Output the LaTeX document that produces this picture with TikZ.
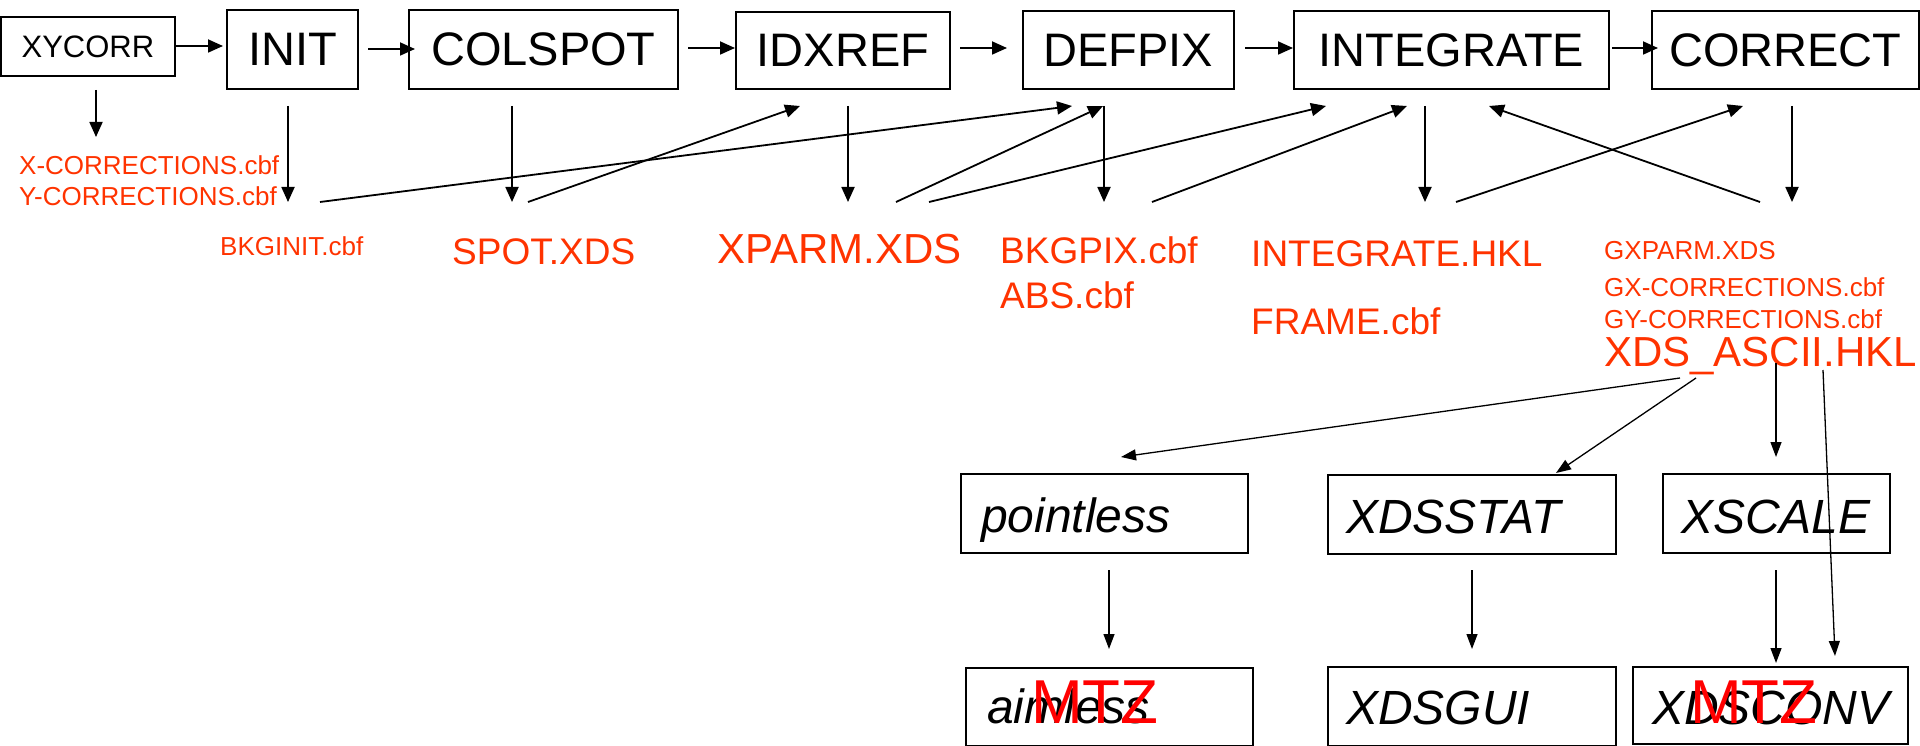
\documentclass[tikz,border=0pt]{standalone}
\usepackage{fontspec}
\setmainfont{Liberation Sans}
\usetikzlibrary{arrows.meta}
\definecolor{fileorange}{HTML}{FF3300}
\definecolor{mtzred}{HTML}{FF0000}
\begin{document}
\begin{tikzpicture}[x=1pt,y=-1pt,
  box/.style={draw,line width=1.8pt,inner sep=0pt,anchor=north west},
  topfont/.style={font=\fontsize{47}{56}\selectfont},
  lowlbl/.style={anchor=base west,inner sep=0pt,font=\fontsize{48}{58}\selectfont\itshape},
  file/.style={anchor=base west,inner sep=0pt,text=fileorange},
  fsmall/.style={font=\fontsize{26}{31}\selectfont},
  fmid/.style={font=\fontsize{37}{44}\selectfont},
  fbig/.style={font=\fontsize{42}{50}\selectfont},
  mtz/.style={anchor=base west,inner sep=0pt,text=mtzred,font=\fontsize{62}{74}\selectfont},
  arr/.style={line width=1.8pt,-{Triangle[length=15pt,width=13pt]}},
  arrthin/.style={line width=1.3pt,-{Triangle[length=15pt,width=11pt]}}
]
\useasboundingbox (0,0) rectangle (1920,746);

% top row boxes
\node[box,minimum width=174pt,minimum height=59pt,font=\fontsize{31}{37}\selectfont] (xycorr) at (0,16) {XYCORR};
\node[box,topfont,minimum width=131pt,minimum height=79pt] (init) at (226,9) {INIT};
\node[box,topfont,minimum width=269pt,minimum height=79pt] (colspot) at (408,9) {COLSPOT};
\node[box,topfont,minimum width=214pt,minimum height=77pt] (idxref) at (735,11) {IDXREF};
\node[box,topfont,minimum width=211pt,minimum height=78pt] (defpix) at (1022,10) {DEFPIX};
\node[box,topfont,minimum width=315pt,minimum height=78pt] (integrate) at (1293,10) {INTEGRATE};
\node[box,topfont,minimum width=267pt,minimum height=78pt] (correct) at (1651,10) {CORRECT};

% bottom boxes
\node[box,minimum width=287pt,minimum height=79pt] (pointless) at (960,473) {};
\node[box,minimum width=288pt,minimum height=79pt] (xdsstat) at (1327,474) {};
\node[box,minimum width=227pt,minimum height=79pt] (xscale) at (1662,473) {};
\node[box,minimum width=287pt,minimum height=78pt] (aimless) at (965,667) {};
\node[box,minimum width=288pt,minimum height=79pt] (xdsgui) at (1327,666) {};
\node[box,minimum width=275pt,minimum height=77pt] (xdsconv) at (1632,666) {};

\node[lowlbl] (pointlesst) at (981,532) {pointless};
\node[lowlbl] (xdsstatt) at (1346,533) {XDSSTAT};
\node[lowlbl] (xscalet) at (1681,533) {XSCALE};
\node[lowlbl] (aimlesst) at (987,723) {aimless};
\node[lowlbl] (xdsguit) at (1346,724) {XDSGUI};
\node[lowlbl] (xdsconvt) at (1652,724) {XDSCONV};

% file labels
\node[file,fsmall] (xcorr) at (19,175) {X-CORRECTIONS.cbf};
\node[file,fsmall] (ycorr) at (19,206) {Y-CORRECTIONS.cbf};
\node[file,fsmall] (bkginit) at (220,255) {BKGINIT.cbf};
\node[file,fmid] (spot) at (452,265) {SPOT.XDS};
\node[file,fbig] (xparm) at (717,264) {XPARM.XDS};
\node[file,fmid] (bkgpix) at (1000,264) {BKGPIX.cbf};
\node[file,fmid] (abs) at (1000,308) {ABS.cbf};
\node[file,fmid] (inthkl) at (1251,266) {INTEGRATE.HKL};
\node[file,fmid] (frame) at (1251,334) {FRAME.cbf};
\node[file,fsmall] (gxparm) at (1604,259) {GXPARM.XDS};
\node[file,fsmall] (gxcorr) at (1604,296) {GX-CORRECTIONS.cbf};
\node[file,fsmall] (gycorr) at (1604,328) {GY-CORRECTIONS.cbf};
\node[file,fbig] (ascii) at (1604,366) {XDS\_ASCII.HKL};

\node[mtz] (mtza) at (1031,723) {MTZ};
\node[mtz] (mtzb) at (1690,723) {MTZ};

% arrow end points
\coordinate (h1s) at (176,46);  \coordinate (h1e) at (223,46);
\coordinate (h2s) at (368,49);  \coordinate (h2e) at (415,49);
\coordinate (h3s) at (688,48);  \coordinate (h3e) at (735,48);
\coordinate (h4s) at (960,48);  \coordinate (h4e) at (1007,48);
\coordinate (h5s) at (1245,48); \coordinate (h5e) at (1293,48);
\coordinate (h6s) at (1612,48); \coordinate (h6e) at (1658,48);

\coordinate (v0s) at (96,90);   \coordinate (v0e) at (96,137);
\coordinate (v1s) at (288,106); \coordinate (v1e) at (288,202);
\coordinate (v2s) at (512,106); \coordinate (v2e) at (512,202);
\coordinate (v3s) at (848,106); \coordinate (v3e) at (848,202);
\coordinate (v4s) at (1104,106); \coordinate (v4e) at (1104,202);
\coordinate (v5s) at (1425,106); \coordinate (v5e) at (1425,202);
\coordinate (v6s) at (1792,106); \coordinate (v6e) at (1792,202);

\coordinate (d1s) at (320,202);  \coordinate (d1e) at (1072,106);
\coordinate (d2s) at (528,202);  \coordinate (d2e) at (800,106);
\coordinate (d3s) at (896,202);  \coordinate (d3e) at (1103,106);
\coordinate (d4s) at (929,202);  \coordinate (d4e) at (1326,106);
\coordinate (d5s) at (1152,202); \coordinate (d5e) at (1407,106);
\coordinate (d6s) at (1456,202); \coordinate (d6e) at (1743,106);
\coordinate (d7s) at (1760,202); \coordinate (d7e) at (1489,106);

\coordinate (l1s) at (1680,378); \coordinate (l1e) at (1121,457);
\coordinate (l2s) at (1696,378); \coordinate (l2e) at (1556,473);
\coordinate (l3s) at (1776,363); \coordinate (l3e) at (1776,457);
\coordinate (l4s) at (1823,370); \coordinate (l4e) at (1835,656);
\coordinate (b1s) at (1109,570); \coordinate (b1e) at (1109,649);
\coordinate (b2s) at (1472,570); \coordinate (b2e) at (1472,649);
\coordinate (b3s) at (1776,570); \coordinate (b3e) at (1776,663);

% top arrows
\foreach \n in {h1,h2,h3,h4,h5,h6,v0,v1,v2,v3,v4,v5,v6,d1,d2,d3,d4,d5,d6,d7}
  \draw[arr] (\n s) -- (\n e);

% lower arrows
\foreach \n in {l1,l2,l3,l4,b1,b2,b3}
  \draw[arrthin] (\n s) -- (\n e);

\end{tikzpicture}
\end{document}
